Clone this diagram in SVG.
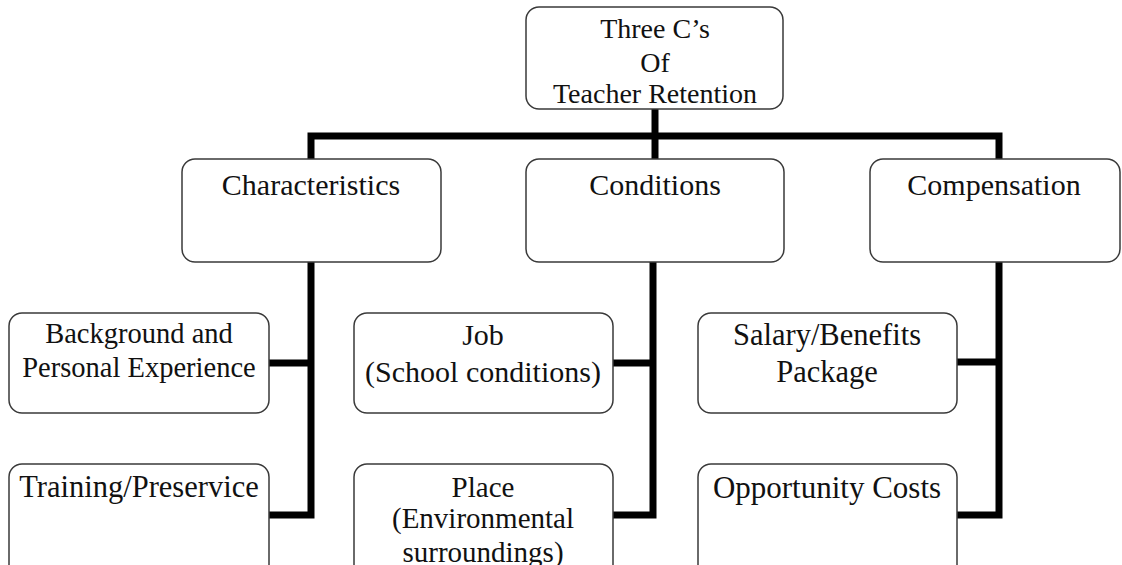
<svg xmlns="http://www.w3.org/2000/svg" width="1122" height="565" viewBox="0 0 1122 565">
<style>
.box{fill:#fff;stroke:#3a3a3a;stroke-width:1.5}
.t{font-family:"Liberation Serif","Times New Roman",serif;fill:#111;text-anchor:middle}
.c{fill:none;stroke:#000;stroke-width:7;stroke-linejoin:miter;stroke-linecap:butt}
</style>
<rect width="1122" height="565" fill="#fff"/>
<g id="connectors">
<path class="c" d="M655,109 V159"/>
<path class="c" d="M311,159 V136 H999 V159"/>
<path class="c" d="M311,262 V515 H269 M311,363 H269"/>
<path class="c" d="M653,262 V515 H613 M653,363 H613"/>
<path class="c" d="M999,262 V515 H957 M999,362 H957"/>
</g>
<g id="root">
<rect class="box" x="526" y="7" width="257" height="102" rx="13"/>
<text class="t" font-size="28" x="655" y="38">Three C’s</text>
<text class="t" font-size="28" x="655" y="72">Of</text>
<text class="t" font-size="28" x="655" y="103">Teacher Retention</text>
</g>
<g id="characteristics">
<rect class="box" x="182" y="159" width="259" height="103" rx="13"/>
<text class="t" font-size="30" x="311" y="195">Characteristics</text>
</g>
<g id="conditions">
<rect class="box" x="526" y="159" width="258" height="103" rx="13"/>
<text class="t" font-size="30" x="655" y="195">Conditions</text>
</g>
<g id="compensation">
<rect class="box" x="870" y="159" width="250" height="103" rx="13"/>
<text class="t" font-size="30" x="994" y="195">Compensation</text>
</g>
<g id="background">
<rect class="box" x="9" y="313" width="260" height="100" rx="13"/>
<text class="t" font-size="28.5" x="139" y="343">Background and</text>
<text class="t" font-size="28.5" x="139" y="377">Personal Experience</text>
</g>
<g id="training">
<rect class="box" x="9" y="464" width="260" height="115" rx="13"/>
<text class="t" font-size="30.5" x="139" y="497">Training/Preservice</text>
</g>
<g id="job">
<rect class="box" x="354" y="313" width="259" height="100" rx="13"/>
<text class="t" font-size="30" x="483" y="345">Job</text>
<text class="t" font-size="30" x="483" y="382">(School conditions)</text>
</g>
<g id="place">
<rect class="box" x="354" y="464" width="259" height="115" rx="13"/>
<text class="t" font-size="29" x="483" y="497">Place</text>
<text class="t" font-size="29" x="483" y="528">(Environmental</text>
<text class="t" font-size="29" x="483" y="562">surroundings)</text>
</g>
<g id="salary">
<rect class="box" x="698" y="313" width="259" height="100" rx="13"/>
<text class="t" font-size="30.5" x="827" y="345">Salary/Benefits</text>
<text class="t" font-size="30.5" x="827" y="382">Package</text>
</g>
<g id="opportunity">
<rect class="box" x="698" y="464" width="259" height="115" rx="13"/>
<text class="t" font-size="31" x="827" y="498">Opportunity Costs</text>
</g>
</svg>
